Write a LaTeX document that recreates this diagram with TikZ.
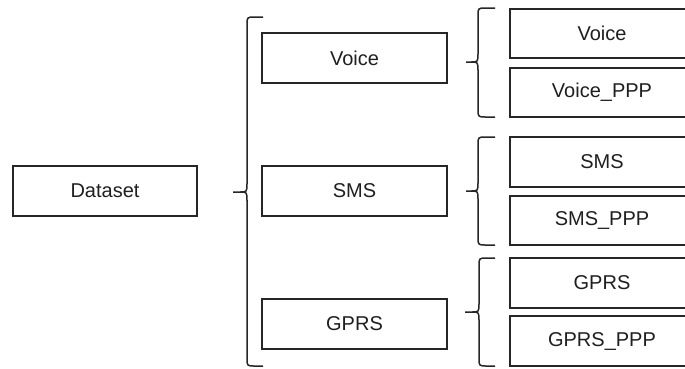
\documentclass[tikz,border=0pt]{standalone}
\usepackage{fontspec}
\setmainfont{Liberation Sans}
\begin{document}
\begin{tikzpicture}[x=1pt,y=-1pt,
  box/.style={draw=black!85, line width=1.5pt, fill=white, inner sep=0pt,
    font=\fontsize{20}{24}\selectfont, text=black!88},
  bracestyle/.style={draw=black!85, line width=1.5pt, line join=round}]
\useasboundingbox (0,0) rectangle (685,368);
\clip (0,0) rectangle (685,368);

% rectangle helper: name, left, top, right, bottom, label
\newcommand\boxat[6]{%
  \node[box, minimum width={#4-#2}, minimum height={#5-#3}]
    (#1) at ({(#2+#4)/2},{(#3+#5)/2}) {#6};}

% curly bracket opening to the right: tip x, spine x, end x, top, middle, bottom
\newcommand\curlybrace[6]{%
  \draw[bracestyle] (#3,#4) -- (#2+8,#4) .. controls (#2,#4) .. (#2,#4+8)
    -- (#2,#5-9) .. controls (#2,#5) .. (#2-7,#5) -- (#1,#5);
  \draw[bracestyle] (#2-7,#5) .. controls (#2,#5) .. (#2,#5+9)
    -- (#2,#6-8) .. controls (#2,#6) .. (#2+8,#6) -- (#3,#6);}

% root
\boxat{dataset}{13}{166}{197}{216}{Dataset}

% first level
\boxat{voice}{262}{33}{447}{83}{Voice}
\boxat{sms}{262}{166}{447}{216}{SMS}
\boxat{gprs}{262}{299}{447}{349}{GPRS}

% second level
\boxat{voiceraw}{510}{9}{694}{58}{Voice}
\boxat{voiceppp}{510}{68}{694}{117}{Voice\_PPP}
\boxat{smsraw}{510}{137}{694}{187}{SMS}
\boxat{smsppp}{510}{196}{694}{245}{SMS\_PPP}
\boxat{gprsraw}{510}{258}{694}{308}{GPRS}
\boxat{gprsppp}{510}{316}{694}{366}{GPRS\_PPP}

% grouping brackets
\curlybrace{233}{247}{263}{17}{192}{366}
\curlybrace{466}{478}{495}{8}{62}{117}
\curlybrace{466}{478}{495}{137}{191}{245}
\curlybrace{465}{479}{495}{258}{312}{366}
\end{tikzpicture}
\end{document}
